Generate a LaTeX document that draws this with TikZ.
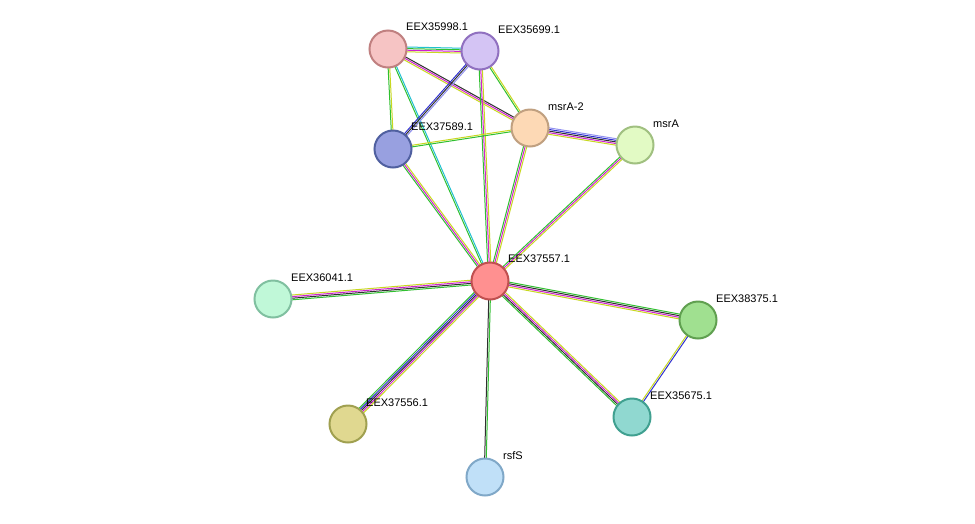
\documentclass[tikz,border=0pt]{standalone}
\usepackage{fontspec}
\setmainfont{Liberation Sans}
\usetikzlibrary{calc}
\definecolor{tm}{HTML}{C8D820}
\definecolor{ex}{HTML}{D020D0}
\definecolor{gr}{HTML}{30C030}
\definecolor{db}{HTML}{20C0D0}
\definecolor{bl}{HTML}{3030D0}
\definecolor{ck}{HTML}{303030}
\definecolor{lv}{HTML}{9090F0}
\newcommand\edg[3]{%
 \gdef\nn{0}\foreach \c in {#3}{\pgfmathtruncatemacro\t{\nn+1}\xdef\nn{\t}}%
 \foreach \c [count=\i] in {#3}{\pgfmathsetmacro\o{(\i-(\nn+1)/2)*1.6}%
 \draw[\c,line width=1] ($(#1)!\o pt!90:(#2)$) -- ($(#2)!\o pt!-90:(#1)$);}}
\tikzset{prot/.style={circle,minimum size=37,inner sep=0,line width=2},
 lab/.style={anchor=west,font=\fontsize{11}{13}\selectfont,inner sep=0}}
\begin{document}
\begin{tikzpicture}[x=1pt,y=-1pt]
\useasboundingbox[fill=white] (0,0) rectangle (975,523);
\coordinate (a) at (388,49);
\coordinate (b) at (480,51);
\coordinate (c) at (393,149);
\coordinate (d) at (530,128);
\coordinate (e) at (635,145);
\coordinate (f) at (490,281);
\coordinate (g) at (273,299);
\coordinate (h) at (698,320);
\coordinate (i) at (632,417);
\coordinate (j) at (348,424);
\coordinate (k) at (485,477);
\edg{a}{b}{tm,ex,gr,db}
\edg{a}{c}{gr,tm}
\edg{a}{d}{tm,ex,ck}
\edg{a}{f}{gr,db}
\edg{b}{c}{bl,ck,lv}
\edg{b}{d}{gr,tm}
\edg{b}{f}{gr,ex,tm}
\edg{c}{d}{gr,tm}
\edg{c}{f}{gr,ex,tm}
\edg{d}{e}{tm,ex,ck,bl,lv}
\edg{d}{f}{gr,ex,tm}
\edg{e}{f}{gr,ex,tm}
\edg{f}{g}{tm,ex,ck,gr}
\edg{f}{h}{tm,ex,ck,gr}
\edg{f}{i}{gr,ck,ex,tm}
\edg{f}{j}{gr,bl,ck,ex,tm}
\edg{f}{k}{ck,gr}
\edg{h}{i}{tm,bl}
\node[prot,fill={rgb,255:red,246;green,196;blue,196},draw={rgb,255:red,192;green,128;blue,128}] (A) at (a) {};
\node[prot,fill={rgb,255:red,212;green,196;blue,244},draw={rgb,255:red,144;green,112;blue,192}] (B) at (b) {};
\node[prot,fill={rgb,255:red,152;green,160;blue,224},draw={rgb,255:red,80;green,96;blue,160}] (C) at (c) {};
\node[prot,fill={rgb,255:red,253;green,217;blue,181},draw={rgb,255:red,192;green,160;blue,128}] (D) at (d) {};
\node[prot,fill={rgb,255:red,226;green,250;blue,196},draw={rgb,255:red,160;green,192;blue,128}] (E) at (e) {};
\node[prot,fill={rgb,255:red,255;green,144;blue,144},draw={rgb,255:red,192;green,80;blue,80}] (F) at (f) {};
\node[prot,fill={rgb,255:red,192;green,248;blue,216},draw={rgb,255:red,128;green,192;blue,160}] (G) at (g) {};
\node[prot,fill={rgb,255:red,160;green,224;blue,144},draw={rgb,255:red,96;green,160;blue,80}] (H) at (h) {};
\node[prot,fill={rgb,255:red,144;green,216;blue,208},draw={rgb,255:red,64;green,160;blue,144}] (I) at (i) {};
\node[prot,fill={rgb,255:red,224;green,216;blue,144},draw={rgb,255:red,160;green,160;blue,80}] (J) at (j) {};
\node[prot,fill={rgb,255:red,192;green,224;blue,248},draw={rgb,255:red,128;green,168;blue,200}] (K) at (k) {};
\node[lab] (LA) at (406,27) {EEX35998.1};
\node[lab] (LB) at (498,30) {EEX35699.1};
\node[lab] (LC) at (411,127) {EEX37589.1};
\node[lab] (LD) at (548,107) {msrA-2};
\node[lab] (LE) at (653,124) {msrA};
\node[lab] (LF) at (508,259) {EEX37557.1};
\node[lab] (LG) at (291,278) {EEX36041.1};
\node[lab] (LH) at (716,299) {EEX38375.1};
\node[lab] (LI) at (650,396) {EEX35675.1};
\node[lab] (LJ) at (366,403) {EEX37556.1};
\node[lab] (LK) at (503,456) {rsfS};
\end{tikzpicture}
\end{document}
